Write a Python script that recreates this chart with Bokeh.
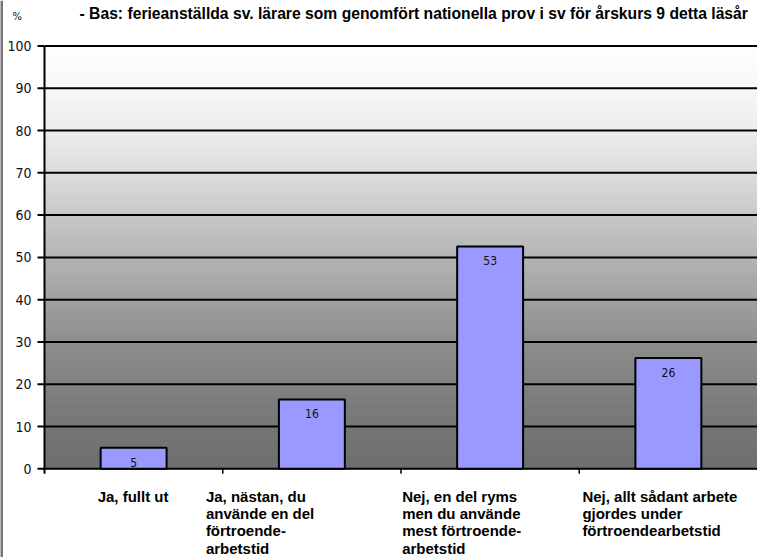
import numpy as np
from bokeh.plotting import figure
from bokeh.models import Range1d
from bokeh.core.properties import value
from bokeh.embed import file_html
from bokeh.resources import INLINE

# ---- data ----
categories = ["Ja, fullt ut", "Ja, nästan", "Nej, en del", "Nej, allt"]
category_labels = [
    "Ja, fullt ut",
    "Ja, nästan, du\nanvände en del\nförtroende-\narbetstid",
    "Nej, en del ryms\nmen du använde\nmest förtroende-\narbetstid",
    "Nej, allt sådant arbete\ngjordes under\nförtroendearbetstid",
]
values = [5.0, 16.4, 52.6, 26.2]
value_labels = ["5", "16", "53", "26"]
y_ticks = [0, 10, 20, 30, 40, 50, 60, 70, 80, 90, 100]
y_tick_labels = ["0", "10", "20", "30", "40", "50", "60", "70", "80", "90", "100"]
title_text = "- Bas: ferieanställda sv. lärare som genomfört nationella prov i sv för årskurs 9 detta läsår"
unit_text = "%"

# ---- layout / styling ----
W, H = 757, 557
PLOT_LEFT, PLOT_TOP, PLOT_BOTTOM = 44, 45.5, 468.3   # pixel positions of the value axis
label_x_offsets = [-36, -106, -88, -86]
grad_stops_v = [0, 10, 20, 30, 40, 50, 60, 70, 80, 90, 100]
grad_stops_g = [110, 118, 129, 142, 160, 180, 200, 220, 236, 247, 254]
TICK_FONT = "DejaVu Sans Condensed"
LABEL_FONT = "Liberation Sans"

n = len(categories)
xc = [i + 0.5 for i in range(n)]          # category centres, one unit per category
px_x = (W - PLOT_LEFT) / n
px_y = (PLOT_BOTTOM - PLOT_TOP) / 100.0
x0 = -PLOT_LEFT / px_x
y0 = -(H - PLOT_BOTTOM) / px_y
y1 = 100 + PLOT_TOP / px_y

p = figure(
    width=W, height=H,
    x_range=Range1d(x0, n), y_range=Range1d(y0, y1),
    x_axis_type=None, y_axis_type=None,
    output_backend="svg", toolbar_location=None,
    min_border=0, min_border_left=0, min_border_right=0,
    min_border_top=0, min_border_bottom=0,
)
p.outline_line_color = None
p.background_fill_color = "white"
p.border_fill_color = "white"
p.grid.visible = False

# chart-area frame line on the left edge
p.segment(x0=[x0], y0=[y0], x1=[x0], y1=[y1], line_color="#777777", line_width=5)

# gradient background of the plot area
step = 0.5
lv = np.arange(0, 100, step)
g = np.interp(lv + step / 2, grad_stops_v, grad_stops_g).round().astype(int)
cols = ["#%02x%02x%02x" % (v, v, v) for v in g]
p.quad(left=0, right=n, bottom=lv, top=lv + step,
       fill_color=cols, line_color=cols, line_width=1)

# horizontal grid lines + y ticks
p.segment(x0=[0] * len(y_ticks), y0=y_ticks, x1=[n] * len(y_ticks), y1=y_ticks,
          line_color="black", line_width=2)
p.ray(x=[0] * len(y_ticks), y=y_ticks, length=7, length_units="screen",
      angle=np.pi, line_color="black", line_width=2)

# y axis line
p.segment(x0=[0], y0=[0], x1=[0], y1=[100], line_color="black", line_width=2)
p.ray(x=[0], y=[0], length=5, length_units="screen", angle=-np.pi / 2,
      line_color="black", line_width=2)

# x axis ticks at category boundaries
p.ray(x=list(range(1, n)), y=[0] * (n - 1), length=5, length_units="screen",
      angle=-np.pi / 2, line_color="black", line_width=1.5)

# y tick labels
p.text(x=[0] * len(y_ticks), y=y_ticks, text=y_tick_labels, x_offset=-13,
       text_align="right", text_baseline="middle", text_font=value(TICK_FONT),
       text_font_size="14px", text_color="#111111")

# bars
p.vbar(x=xc, top=values, width=0.37, fill_color="#9999ff",
       line_color="black", line_width=2)
p.text(x=xc, y=values, text=value_labels, text_align="center",
       text_baseline="top", y_offset=10, text_font=value(TICK_FONT),
       text_font_size="12px", text_color="#111111")

# category labels
p.text(x=xc, y=[0] * n, text=category_labels, x_offset=label_x_offsets, y_offset=19,
       text_align="left", text_baseline="top", text_font=value(LABEL_FONT),
       text_font_style="bold", text_font_size="15px", text_line_height=1.02,
       text_color="black")

# title and unit
p.text(x=[0], y=[100], text=[title_text], x_offset=35, y_offset=-33,
       text_align="left", text_baseline="middle", text_font=value(LABEL_FONT),
       text_font_style="bold", text_font_size="15.7px", text_color="black")
p.text(x=[0], y=[100], text=[unit_text], x_offset=-32, y_offset=-30,
       text_align="left", text_baseline="middle", text_font=value(TICK_FONT),
       text_font_size="11px", text_color="#111111")

open("out.html", "w").write(file_html(p, INLINE))
